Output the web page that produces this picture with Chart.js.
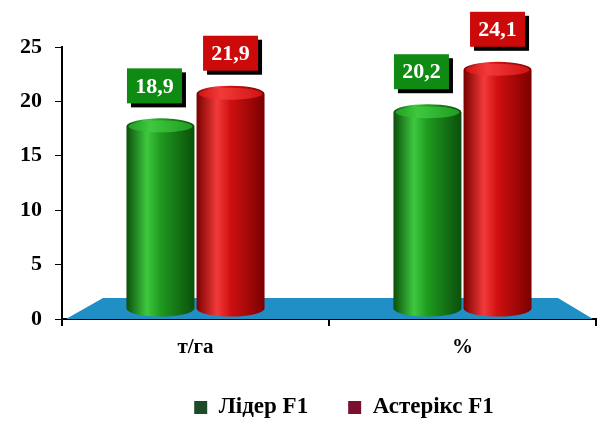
<!DOCTYPE html>
<html>
<head>
<meta charset="utf-8">
<script src="https://cdn.jsdelivr.net/npm/chart.js@4/dist/chart.umd.min.js"></script>
<style>
  html, body { margin: 0; padding: 0; background: #fff; }
  #wrap { width: 602px; height: 421px; }
</style>
</head>
<body>
<div id="wrap"><canvas id="chart"></canvas></div>
<script>
const categories = ["т/га", "%"];
const seriesNames = ["Лідер F1", "Астерікс F1"];
const liderValues = [18.9, 20.2];
const asteriksValues = [21.9, 24.1];
const yTicks = [0, 5, 10, 15, 20, 25];

const FONT = "'Liberation Serif', 'Times New Roman', serif";
Chart.defaults.font.family = FONT;

const palettes = [
  { dark: "#0b4f0b", mid: "#1f9a1f", light: "#3fc83f", box: "#0f8a12", legend: "#1f4a2a" },
  { dark: "#7a0000", mid: "#d01010", light: "#f23a3a", box: "#cc0a0a", legend: "#7a0f30" },
];

// legend sits lower and further right than Chart.js would put it
const LEGEND_TRIM = 30;
const LEGEND_SHIFT = 46;

function fmt(v) {
  return v.toFixed(1).replace(".", ",");
}

function drawCylinder(ctx, x, top, bottom, w, pal) {
  const left = x - w / 2;
  const rx = w / 2;
  const ry = 8;
  const g = ctx.createLinearGradient(left, 0, left + w, 0);
  g.addColorStop(0, pal.dark);
  g.addColorStop(0.3, pal.light);
  g.addColorStop(0.5, pal.mid);
  g.addColorStop(1, pal.dark);
  ctx.fillStyle = g;
  ctx.beginPath();
  ctx.moveTo(left, top + ry);
  ctx.lineTo(left, bottom);
  ctx.ellipse(x, bottom, rx, ry, 0, Math.PI, 0, true);
  ctx.lineTo(left + w, top + ry);
  ctx.ellipse(x, top + ry, rx, ry, 0, 0, Math.PI, true);
  ctx.closePath();
  ctx.fill();

  // top cap
  const cg = ctx.createLinearGradient(left, 0, left + w, 0);
  cg.addColorStop(0, pal.mid);
  cg.addColorStop(0.35, pal.light);
  cg.addColorStop(1, pal.mid);
  ctx.fillStyle = cg;
  ctx.beginPath();
  ctx.ellipse(x, top + ry, rx - 2, ry - 2, 0, 0, Math.PI * 2);
  ctx.fill();
}

const legendFitPlugin = {
  id: "legendFit",
  beforeUpdate(chart) {
    const lg = chart.legend;
    if (lg && !lg._patched) {
      const orig = lg.fit;
      lg.fit = function () {
        orig.call(this);
        this.height = Math.max(0, this.height - LEGEND_TRIM);
      };
      lg._patched = true;
    }
  },
  afterLayout(chart) {
    const lg = chart.legend;
    if (lg) {
      lg.bottom += LEGEND_TRIM;
      lg.height += LEGEND_TRIM;
      lg.left += LEGEND_SHIFT;
      lg.right += LEGEND_SHIFT;
    }
  },
};

const cylinderPlugin = {
  id: "cylinders",
  beforeDatasetsDraw(chart) {
    const { ctx, chartArea } = chart;
    // blue floor
    const b = chartArea.bottom;
    ctx.save();
    ctx.fillStyle = "#1f8fc6";
    ctx.beginPath();
    ctx.moveTo(chartArea.left + 4, b);
    ctx.lineTo(chartArea.left + 41, b - 21);
    ctx.lineTo(chartArea.right - 38, b - 21);
    ctx.lineTo(chartArea.right - 3, b);
    ctx.closePath();
    ctx.fill();
    ctx.restore();
  },
  afterDatasetsDraw(chart) {
    const { ctx } = chart;
    ctx.save();
    chart.data.datasets.forEach((ds, di) => {
      const meta = chart.getDatasetMeta(di);
      const pal = palettes[di];
      meta.data.forEach((el) => {
        const p = el.getProps(["x", "y", "base", "width"], true);
        drawCylinder(ctx, p.x, p.y + 5, p.base - 10, p.width, pal);
      });
    });
    // value boxes
    chart.data.datasets.forEach((ds, di) => {
      const meta = chart.getDatasetMeta(di);
      const pal = palettes[di];
      meta.data.forEach((el, i) => {
        const p = el.getProps(["x", "y"], true);
        const bw = 55, bh = 35;
        const bx = p.x - bw / 2 - (di === 0 ? 6 : 0);
        const by = p.y + 5 - 15 - bh;
        ctx.fillStyle = "#000";
        ctx.fillRect(bx + 4, by + 4, bw, bh);
        ctx.fillStyle = pal.box;
        ctx.fillRect(bx, by, bw, bh);
        ctx.fillStyle = "#fff";
        ctx.font = "bold 22px " + FONT;
        ctx.textAlign = "center";
        ctx.textBaseline = "middle";
        ctx.fillText(fmt(ds.data[i]), bx + bw / 2, by + bh / 2 + 1);
      });
    });
    ctx.restore();
  },
};

new Chart(document.getElementById("chart"), {
  type: "bar",
  data: {
    labels: categories,
    datasets: [
      { label: seriesNames[0], data: liderValues, backgroundColor: "rgba(0,0,0,0)" },
      { label: seriesNames[1], data: asteriksValues, backgroundColor: "rgba(0,0,0,0)" },
    ],
  },
  options: {
    responsive: true,
    maintainAspectRatio: false,
    animation: false,
    layout: { padding: { top: 47, right: 6, left: 0, bottom: 22 } },
    datasets: { bar: { categoryPercentage: 0.525, barPercentage: 0.97 } },
    plugins: {
      tooltip: { enabled: false },
      legend: {
        position: "bottom",
        labels: {
          color: "#000",
          font: { family: FONT, size: 23, weight: "bold" },
          boxWidth: 13,
          boxHeight: 13,
          padding: 40,
          generateLabels: (chart) =>
            chart.data.datasets.map((ds, i) => ({
              text: ds.label,
              fillStyle: palettes[i].legend,
              strokeStyle: palettes[i].legend,
              lineWidth: 0,
              datasetIndex: i,
              fontColor: "#000",
            })),
        },
      },
    },
    scales: {
      x: {
        grid: { offset: true, drawOnChartArea: false, drawTicks: true, tickLength: 7, color: "#000", lineWidth: 2 },
        border: { color: "#000", width: 2 },
        ticks: { color: "#000", font: { family: FONT, size: 21, weight: "bold" }, padding: 9 },
        afterFit: (scale) => { scale.height = 37; },
      },
      y: {
        min: 0,
        max: 25,
        afterBuildTicks: (scale) => { scale.ticks = yTicks.map((v) => ({ value: v })); },
        grid: { drawOnChartArea: false, drawTicks: true, tickLength: 7, color: "#000", lineWidth: 1 },
        border: { color: "#000", width: 2 },
        ticks: { color: "#000", font: { family: FONT, size: 22, weight: "bold" }, padding: 13 },
        afterFit: (scale) => { scale.width = 62; },
      },
    },
  },
  plugins: [legendFitPlugin, cylinderPlugin],
});
</script>
</body>
</html>
